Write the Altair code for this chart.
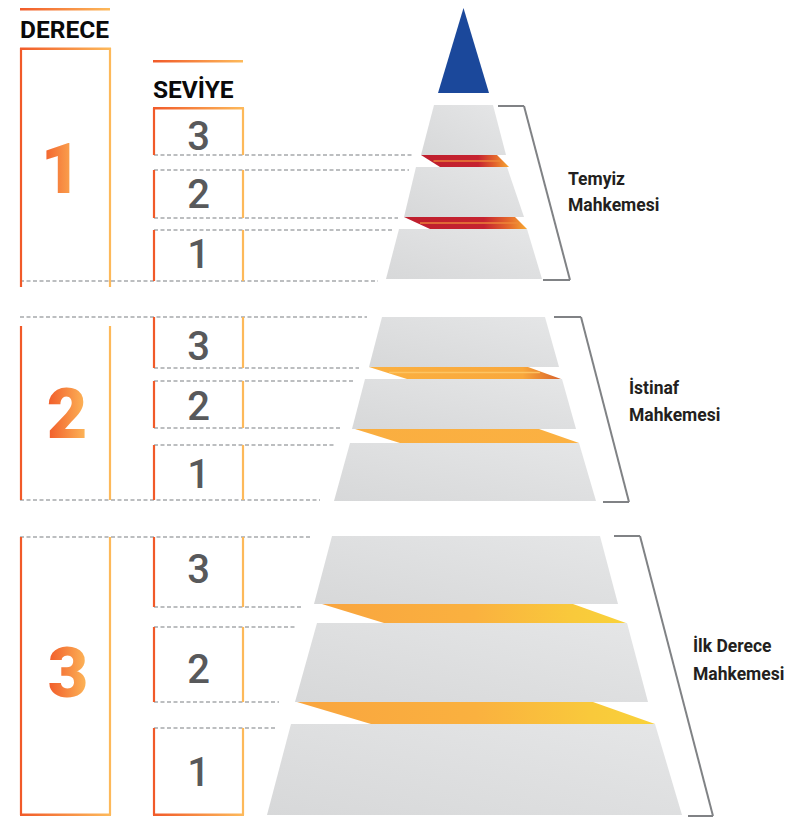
import altair as alt
import pandas as pd

# ---------------- content (text values) ----------------
header_labels = ["DERECE", "SEVİYE"]
derece_labels = ["1", "2", "3"]
seviye_labels = ["3", "2", "1"]          # repeated inside every derece, top to bottom
court_line1 = ["Temyiz", "İstinaf", "İlk Derece"]
court_line2 = ["Mahkemesi", "Mahkemesi", "Mahkemesi"]

# ---------------- layout (reference pixel space) ----------------
W, H = 785, 809
X0, Y0 = 8, 8
xs = alt.Scale(domain=[X0, X0 + W], range=[0, W], nice=False, zero=False)
ys = alt.Scale(domain=[Y0, Y0 + H], range=[0, H], nice=False, zero=False)

# pyramid tiers (9 levels, top to bottom)
tier_top_y = [105, 167, 229, 317, 379, 443, 536, 623, 724]
tier_top_l = [434, 416, 399, 382, 365, 350, 332, 317, 291]
tier_top_r = [493, 507, 527, 545, 562, 579, 600, 627, 655]
tier_bot_y = [155, 217, 279, 367, 429, 501, 604, 702, 815]
tier_bot_l = [421, 404, 386, 369, 352, 334, 314, 295, 267]
tier_bot_r = [506, 524, 542, 559, 576, 596, 618, 648, 682]

# connecting bands between tiers
band_top_y = [155, 217, 367, 429, 604, 702]
band_top_l = [421, 404, 369, 355, 322, 297]
band_top_r = [497, 515, 528, 539, 573, 593]
band_bot_y = [167, 229, 379, 443, 623, 724]
band_bot_l = [440, 430, 407, 400, 384, 371]
band_bot_r = [509, 527, 561, 579, 626, 655]
band_kind = ["red", "red", "orange_dark", "orange", "yellow", "yellow"]

# apex
apex_x, apex_top, apex_base, apex_l, apex_r = 463.5, 8, 93, 438, 489

# left columns
der_x = (21, 110)
sev_x = (154, 243)
der_box_top = [48, 326, 537]
der_box_bot = [287, 500, 815]
sev_box_top = [108, 170, 230, 317, 381, 445, 537, 627, 728]
sev_box_bot = [155, 218, 281, 368, 428, 500, 607, 702, 815]

dash_y = [155, 170, 218, 230, 281, 317, 368, 381, 428, 445, 500, 537, 607, 627, 702, 728]
dash_x0 = [154, 154, 154, 154, 20, 20, 154, 154, 154, 154, 20, 20, 154, 154, 154, 154]
dash_x1 = [413, 409, 398, 392, 378, 367, 359, 355, 340, 335, 320, 312, 301, 297, 279, 275]

# brackets
br_top_in = [498, 554, 614]
br_top_out = [524, 581, 640]
br_top_y = [106, 317, 536]
br_bot_out = [570, 629, 713]
br_bot_in = [543, 603, 688]
br_bot_y = [280, 502, 816]

court_x = [568, 629, 693]
court_base1 = [185, 394, 652]
court_base2 = [211, 421, 680]

der_num_x = [61, 67, 68]
der_num_base = [193, 438, 697]
sev_num_x = 198.5
sev_num_base = [150, 208, 268, 360, 420, 488, 583, 683, 786]

header_x = [20, 153]
header_base = [38, 98]

grad_bars = [  # x0, x1, y0, y1
    (20, 110, 8, 10.5),
    (153, 243, 60, 62.5),
    (20, 111, 47.5, 50),
    (153, 244, 107, 109.5),
    (20, 111, 813.5, 816),
    (153, 244, 813.5, 816),
]

# ---------------- helpers ----------------
def lg(stops, x1=0, y1=0, x2=1, y2=0):
    return alt.LinearGradient(
        gradient="linear",
        stops=[alt.GradientStop(color=c, offset=o) for o, c in stops],
        x1=x1, y1=y1, x2=x2, y2=y2,
    )

def area_layer(df, fill):
    return alt.Chart(df).mark_area(fill=fill, interpolate="linear").encode(
        x=alt.X("x:Q", scale=xs, axis=None),
        y=alt.Y("yt:Q", scale=ys, axis=None),
        y2="yb:Q",
        detail="id:N",
    )

def rule_layer(df, **kw):
    return alt.Chart(df).mark_rule(**kw).encode(
        x=alt.X("x0:Q", scale=xs, axis=None),
        x2="x1:Q",
        y=alt.Y("y0:Q", scale=ys, axis=None),
        y2="y1:Q",
    )

def text_layer(df, **kw):
    return alt.Chart(df).mark_text(**kw).encode(
        x=alt.X("x:Q", scale=xs, axis=None),
        y=alt.Y("y:Q", scale=ys, axis=None),
        text="t:N",
    )

# ---------------- data frames ----------------
rows = []
for i in range(9):
    yt, yb = tier_top_y[i], tier_bot_y[i]
    rows += [
        {"id": i, "x": tier_bot_l[i], "yt": yb, "yb": yb},
        {"id": i, "x": tier_top_l[i], "yt": yt, "yb": yb},
        {"id": i, "x": tier_top_r[i], "yt": yt, "yb": yb},
        {"id": i, "x": tier_bot_r[i], "yt": yb, "yb": yb},
    ]
tiers = pd.DataFrame(rows)

def bands_of(kind):
    rows = []
    for i in range(6):
        if band_kind[i] == kind:
            yt, yb = band_top_y[i], band_bot_y[i]
            rows += [
                {"id": i, "x": band_top_l[i], "yt": yt, "yb": yt},
                {"id": i, "x": band_bot_l[i], "yt": yt, "yb": yb},
                {"id": i, "x": band_top_r[i], "yt": yt, "yb": yb},
                {"id": i, "x": band_bot_r[i], "yt": yb, "yb": yb},
            ]
    return pd.DataFrame(rows)

def mid_stripes(kind, frac):
    rows = []
    for i in range(6):
        if band_kind[i] == kind:
            ty, by = band_top_y[i], band_bot_y[i]
            y = ty + (by - ty) * frac
            l = band_top_l[i] + (band_bot_l[i] - band_top_l[i]) * frac
            r = band_top_r[i] + (band_bot_r[i] - band_top_r[i]) * frac
            rows.append({"x0": l + 3, "x1": r - 3, "y0": y, "y1": y})
    return pd.DataFrame(rows)

triangle = pd.DataFrame([
    {"id": 0, "x": apex_l, "yt": apex_base, "yb": apex_base},
    {"id": 0, "x": apex_x, "yt": apex_top, "yb": apex_base},
    {"id": 0, "x": apex_r, "yt": apex_base, "yb": apex_base},
])

red_v, orange_v = [], []
for t, b in zip(der_box_top, der_box_bot):
    red_v.append({"x0": der_x[0], "x1": der_x[0], "y0": t, "y1": b})
    orange_v.append({"x0": der_x[1], "x1": der_x[1], "y0": t, "y1": b})
for t, b in zip(sev_box_top, sev_box_bot):
    red_v.append({"x0": sev_x[0], "x1": sev_x[0], "y0": t, "y1": b})
    orange_v.append({"x0": sev_x[1], "x1": sev_x[1], "y0": t, "y1": b})
red_v = pd.DataFrame(red_v)
orange_v = pd.DataFrame(orange_v)

dashes = pd.DataFrame({"x0": dash_x0, "x1": dash_x1, "y0": dash_y, "y1": dash_y})

br = []
for i in range(3):
    br.append({"x0": br_top_in[i], "x1": br_top_out[i], "y0": br_top_y[i], "y1": br_top_y[i]})
    br.append({"x0": br_top_out[i], "x1": br_bot_out[i], "y0": br_top_y[i], "y1": br_bot_y[i]})
    br.append({"x0": br_bot_in[i], "x1": br_bot_out[i], "y0": br_bot_y[i], "y1": br_bot_y[i]})
brackets = pd.DataFrame(br)

gbars = pd.DataFrame([{"x0": a, "x1": b, "y0": c, "y1": d} for a, b, c, d in grad_bars])

headers = pd.DataFrame({"x": header_x, "y": header_base, "t": header_labels})
der_nums = pd.DataFrame({"x": der_num_x, "y": der_num_base, "t": derece_labels})
sev_nums = pd.DataFrame({
    "x": [sev_num_x] * 9,
    "y": sev_num_base,
    "t": seviye_labels * 3,
})
courts = pd.DataFrame({
    "x": court_x * 2,
    "y": court_base1 + court_base2,
    "t": court_line1 + court_line2,
})

# ---------------- layers ----------------
grey_fill = lg([(0, "#D7D8D9"), (1, "#E5E6E7")], x1=0, y1=1, x2=1, y2=0)
red_fill = lg([(0, "#BE1E2D"), (0.65, "#C62330"), (0.85, "#E4672C"), (1, "#F6A833")])
orange_dark_fill = lg([(0, "#FBB040"), (0.8, "#F9A83C"), (1, "#D8612A")])
orange_fill = lg([(0, "#FAAE40"), (1, "#FBB142")])
yellow_fill = lg([(0, "#F9A53F"), (0.5, "#FAB13F"), (0.82, "#F9C93B"), (1, "#F9D23A")])
edge_grad = lg([(0, "#F15A29"), (1, "#FDBA5B")])
num_grad = lg([(0, "#F15A29"), (1, "#FDB95A")])

layers = [
    area_layer(tiers, grey_fill),
    area_layer(bands_of("red"), red_fill),
    rule_layer(mid_stripes("red", 0.5), stroke="#EE8A3A", strokeWidth=1.6, opacity=0.9),
    area_layer(bands_of("orange_dark"), orange_dark_fill),
    rule_layer(mid_stripes("orange_dark", 0.45), stroke="#FDC766", strokeWidth=1.5, opacity=0.9),
    area_layer(bands_of("orange"), orange_fill),
    area_layer(bands_of("yellow"), yellow_fill),
    area_layer(triangle, "#1B489B"),
    rule_layer(dashes, stroke="#A7A9AC", strokeWidth=1.3, strokeDash=[4, 2.5]),
    rule_layer(red_v, stroke="#F15A29", strokeWidth=2.2),
    rule_layer(orange_v, stroke="#FDB95A", strokeWidth=2.2),
    alt.Chart(gbars).mark_rect(fill=edge_grad).encode(
        x=alt.X("x0:Q", scale=xs, axis=None), x2="x1:Q",
        y=alt.Y("y0:Q", scale=ys, axis=None), y2="y1:Q",
    ),
    rule_layer(brackets, stroke="#808285", strokeWidth=2),
    text_layer(headers, align="left", baseline="alphabetic", font="Roboto",
               fontSize=24.5, fontWeight="bold", fill="#0A0A0A"),
    text_layer(der_nums, align="center", baseline="alphabetic", font="Roboto",
               fontSize=70, fontWeight=900, fill=num_grad),
    text_layer(sev_nums, align="center", baseline="alphabetic", font="Roboto",
               fontSize=40, fontWeight=500, fill="#58595B"),
    text_layer(courts, align="left", baseline="alphabetic", font="Roboto",
               fontSize=17.5, fontWeight="bold", fill="#231F20"),
]

chart = alt.layer(*layers).properties(
    width=W, height=H, autosize="none", padding=0, background="#FFFFFF"
).configure_view(stroke=None)

chart.save("out.html", embed_options={"renderer": "svg", "actions": False})
